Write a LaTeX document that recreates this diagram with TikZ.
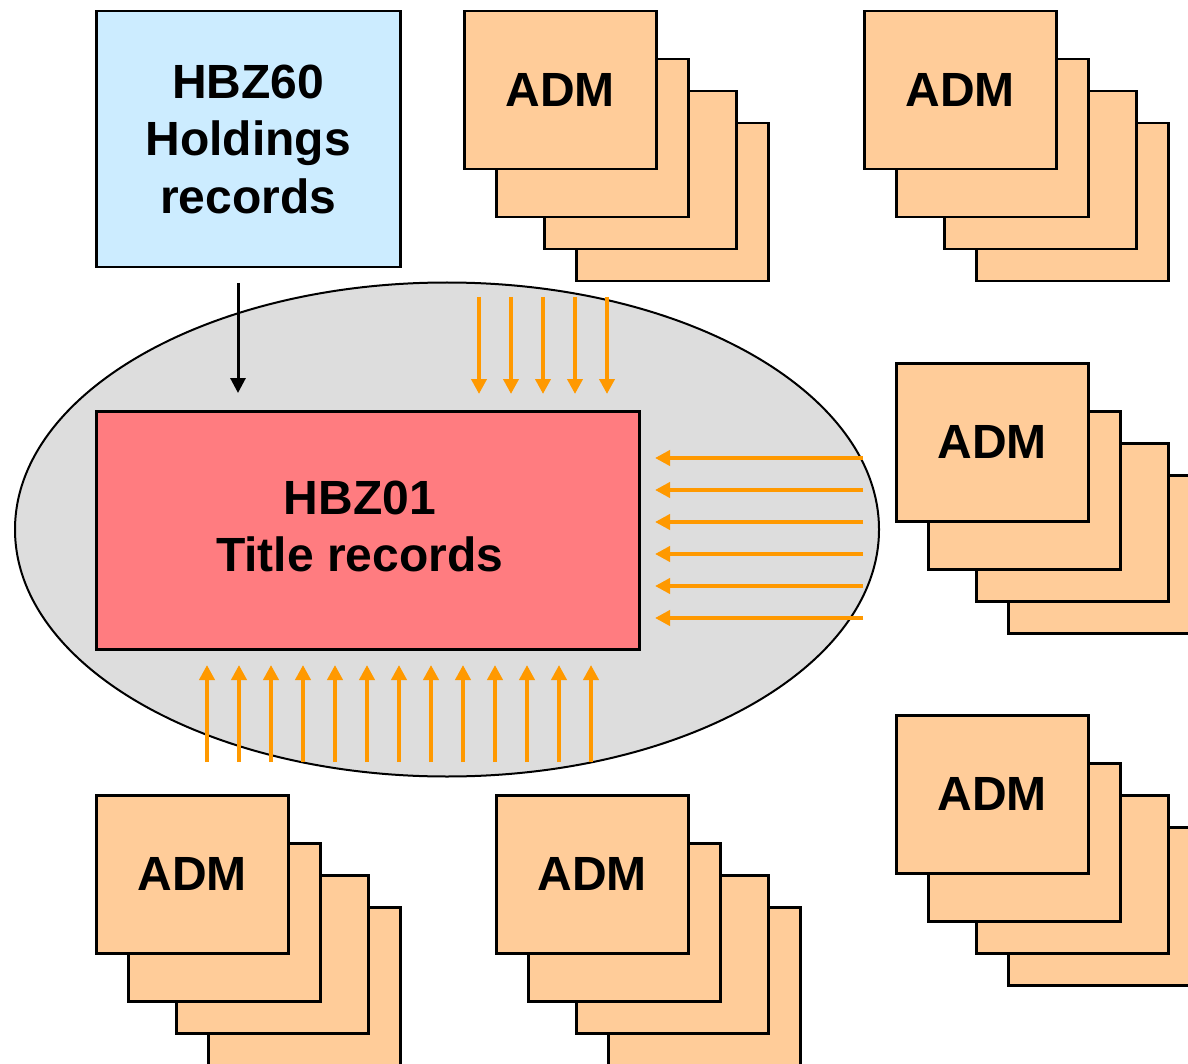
\documentclass[tikz,border=0pt]{standalone}
\usepackage{fontspec}
\setmainfont{Liberation Sans}
\usetikzlibrary{shapes.geometric,arrows.meta}
\definecolor{holdblue}{HTML}{CCECFF}
\definecolor{admorange}{HTML}{FFCC99}
\definecolor{titlered}{HTML}{FF7C80}
\definecolor{ellgray}{HTML}{DDDDDD}
\definecolor{arrorange}{HTML}{FF9900}
\tikzset{
  bigfont/.style={font=\fontsize{48}{57.5}\selectfont\bfseries},
  admbox/.style={draw=black, line width=2.5pt, fill=admorange, minimum width=192pt, minimum height=158pt, inner sep=0pt, anchor=north west, bigfont},
  bigbox/.style={draw=black, line width=2.5pt, inner sep=0pt, anchor=north west, align=center, bigfont},
  feed/.style={draw=arrorange, line width=4.5pt, -{Triangle[length=15pt,width=15pt]}},
  blackfeed/.style={draw=black, line width=3pt, -{Triangle[length=15pt,width=15pt]}}
}
\newcommand\admstack[3]{%
  \node[admbox] (#1-4) at (#2+112,#3+112) {};
  \node[admbox] (#1-3) at (#2+80,#3+80) {};
  \node[admbox] (#1-2) at (#2+32,#3+48) {};
  \node[admbox] (#1-1) at (#2,#3) {ADM};
}
\begin{document}
\begin{tikzpicture}[x=1pt,y=-1pt]
\useasboundingbox (0,0) rectangle (1188,1064);
\clip (0,0) rectangle (1188,1064);
% holdings
\node[bigbox, fill=holdblue, minimum width=304pt, minimum height=256pt] (hbz60) at (95,10) {HBZ60\\Holdings\\records};
% ellipse
\node[ellipse, draw=black, line width=2pt, fill=ellgray, minimum width=864pt, minimum height=494pt, inner sep=0pt] (ell) at (447,529.5) {};
% title records
\node[bigbox, fill=titlered, minimum width=543pt, minimum height=238pt] (hbz01) at (95,410) {};
\node[align=center, bigfont, inner sep=0pt] (hbz01text) at ([xshift=-8pt,yshift=4pt]hbz01.center) {HBZ01\\Title records};
% ADM stacks
\admstack{admA}{463}{10}
\admstack{admB}{863}{10}
\admstack{admC}{895}{362}
\admstack{admD}{895}{714}
\admstack{admE}{95}{794}
\admstack{admF}{495}{794}
% black arrow
\coordinate (bs) at (238,283);
\coordinate (be) at (238,393);
\draw[blackfeed] (bs) -- (be);
% top orange arrows
\foreach \x [count=\i] in {479,511,543,575,607}{
  \coordinate (ts\i) at (\x,297);
  \coordinate (te\i) at (\x,394);
  \draw[feed] (ts\i) -- (te\i);
}
% right orange arrows
\foreach \y [count=\i] in {458,490,522,554,586,618}{
  \coordinate (rs\i) at (863,\y);
  \coordinate (re\i) at (655,\y);
  \draw[feed] (rs\i) -- (re\i);
}
% bottom orange arrows
\foreach \x [count=\i] in {207,239,271,303,335,367,399,431,463,495,527,559,591}{
  \coordinate (us\i) at (\x,762);
  \coordinate (ue\i) at (\x,665);
  \draw[feed] (us\i) -- (ue\i);
}
\end{tikzpicture}
\end{document}
